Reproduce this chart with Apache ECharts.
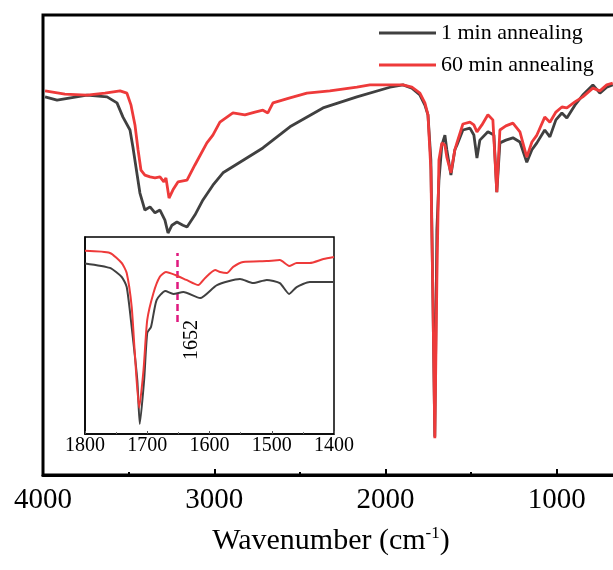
<!DOCTYPE html>
<html>
<head>
<meta charset="utf-8">
<script src="https://cdn.jsdelivr.net/npm/echarts@6/dist/echarts.min.js"></script>
<style>html,body{margin:0;padding:0;background:#fff}#c{width:613px;height:570px}</style>
</head>
<body>
<div id="c"></div>
<script>
// ---------- DATA ----------
const seriesNames = ['1 min annealing', '60 min annealing'];
// main spectrum (wavenumber, transmittance a.u.)
const mainWaveGray = [3988,3918,3743,3626,3568,3533,3492,3475,3434,3405,3375,3346,3317,3288,3270,3247,3218,3183,3159,3113,3066,3008,2949,2850,2716,2558,2365,2167,1974,1898,1846,1799,1770,1752,1735,1723,1712,1700,1688,1671,1653,1642,1618,1595,1583,1548,1507,1484,1466,1449,1402,1367,1350,1332,1297,1256,1215,1175,1145,1116,1070,1040,1005,970,941,894,848,789,748,708,673];
const mainValGray  = [82.2,81.5,82.6,82.2,80.9,77.8,75.0,71.3,61.3,57.6,58.3,57.0,57.6,55.4,52.6,54.3,55.0,54.3,53.9,56.5,59.8,63.0,65.7,68.0,71.1,75.7,79.8,82.2,84.3,84.8,84.1,82.6,80.4,78.3,68.5,38.0,8.3,53.3,64.0,71.7,73.9,70.7,65.2,70.7,71.7,75.0,75.4,73.9,68.9,72.8,74.6,73.9,61.5,72.2,72.8,73.3,72.4,68.0,70.7,72.2,75.0,73.5,77.2,78.7,77.6,80.4,82.6,84.8,83.0,84.3,84.8];
const mainWaveRed  = [3988,3872,3743,3638,3550,3510,3486,3463,3445,3428,3405,3375,3346,3317,3294,3282,3264,3241,3212,3159,3113,3043,3008,2967,2891,2821,2762,2716,2687,2657,2558,2459,2325,2167,2091,1974,1898,1846,1799,1770,1752,1735,1723,1712,1700,1688,1671,1653,1642,1618,1595,1583,1548,1507,1484,1466,1437,1402,1373,1350,1332,1297,1256,1215,1175,1145,1116,1070,1040,1005,970,941,894,848,789,748,708,673];
const mainValRed   = [83.5,82.8,82.6,83.0,83.5,83.0,80.4,76.1,70.7,66.3,65.2,64.8,64.6,64.8,63.7,64.6,60.2,62.0,63.7,64.1,67.4,72.2,73.9,76.7,78.7,78.3,78.9,79.3,78.7,80.9,82.0,83.0,83.5,84.3,84.8,84.8,84.8,84.3,83.0,80.9,78.3,66.3,38.0,8.0,42.4,68.5,72.2,71.7,69.1,65.7,70.7,72.2,76.3,76.7,76.1,74.6,76.1,78.3,77.2,61.5,75.0,75.9,76.5,74.6,69.1,72.4,73.9,77.8,76.7,78.9,80.0,79.8,81.1,82.2,84.1,83.5,84.8,85.2];
// inset (1800-1400 cm-1)
const insetWaveGray = [1800,1760,1741,1733,1725,1716,1712,1705,1700,1694,1685,1671,1658,1642,1615,1588,1551,1530,1508,1487,1472,1460,1439,1400];
const insetValGray  = [86.6,84.3,79.7,74.6,54.3,27.4,5.1,27.4,51.3,54.3,68.0,72.6,71.1,72.1,69.0,75.6,78.7,76.6,78.2,76.6,71.1,74.6,77.2,77.2];
const insetWaveRed  = [1800,1760,1741,1733,1725,1720,1713,1706,1700,1690,1680,1670,1655,1637,1618,1607,1591,1583,1572,1562,1546,1508,1487,1472,1460,1439,1417,1400];
const insetValRed   = [93.0,91.9,86.8,81.7,64.5,41.1,13.2,32.5,57.9,71.6,79.7,82.2,80.7,78.2,75.6,79.2,83.2,82.2,81.7,84.8,87.3,87.8,88.3,85.3,86.8,86.8,88.8,89.8];
const mainTicks = [0, 4000, 1000];   // min, max, interval
const insetTicks = [1400, 1800, 100];
const markWave = 1652;
const markRange = [56.9, 91.9];
const xName = 'Wavenumber (cm';
const xNameSup = '-1';

const pairs = (w, v) => w.map((x, i) => [x, v[i]]);
const FONT = 'Liberation Serif';
const GRAY = '#404040', RED = '#ee3a3a';

const chart = echarts.init(document.getElementById('c'), null, {renderer: 'canvas'});
chart.setOption({
  animation: false,
  backgroundColor: '#fff',
  color: [GRAY, RED],
  legend: {
    orient: 'vertical', left: 374, top: 17,
    itemWidth: 57, itemHeight: 3, itemGap: 10, icon: 'rect',
    textStyle: {fontFamily: FONT, fontSize: 22, color: '#000', lineHeight: 22},
    data: seriesNames
  },
  grid: [
    {left: 43, top: 15, width: 685, height: 460, show: true, borderColor: '#000', borderWidth: 3, backgroundColor: 'transparent',
     containLabel: false, outerBoundsMode: 'none'},
    {left: 85, top: 237, width: 249, height: 197, show: true, borderColor: '#000', borderWidth: 1.5, backgroundColor: '#fff', z: 5,
     containLabel: false, outerBoundsMode: 'none'}
  ],
  xAxis: [
    {gridIndex: 0, type: 'value', inverse: true, min: mainTicks[0], max: mainTicks[1], interval: mainTicks[2],
     axisLine: {show: true, lineStyle: {color: '#000', width: 3}},
     axisTick: {show: true, inside: true, length: 6, lineStyle: {color: '#000', width: 2}},
     minorTick: {show: true, splitNumber: 2, length: 3, lineStyle: {color: '#000', width: 2}},
     splitLine: {show: false},
     axisLabel: {fontFamily: FONT, fontSize: 29, color: '#000', margin: 11,
                 formatter: v => (v === 0 ? '' : String(v))}},
    {gridIndex: 1, type: 'value', inverse: true, min: insetTicks[0], max: insetTicks[1], interval: insetTicks[2],
     axisLine: {show: true, lineStyle: {color: '#000', width: 1.5}},
     axisTick: {show: true, inside: true, length: 3, lineStyle: {color: '#555', width: 1}},
     minorTick: {show: true, splitNumber: 2, length: 2, lineStyle: {color: '#777', width: 1}},
     splitLine: {show: false},
     axisLabel: {fontFamily: FONT, fontSize: 20, color: '#000', margin: 2, showMinLabel: true, showMaxLabel: true,
                 formatter: v => String(v)},
     z: 5}
  ],
  yAxis: [
    {gridIndex: 0, type: 'value', min: 0, max: 100, axisLine: {show: true, lineStyle: {color: '#000', width: 3}},
     axisTick: {show: false}, axisLabel: {show: false}, splitLine: {show: false}},
    {gridIndex: 1, type: 'value', min: 0, max: 100, axisLine: {show: true, lineStyle: {color: '#000', width: 1.5}},
     axisTick: {show: false}, axisLabel: {show: false}, splitLine: {show: false}, z: 5}
  ],
  series: [
    {name: seriesNames[0], type: 'line', xAxisIndex: 0, yAxisIndex: 0, showSymbol: false, symbol: 'none',
     lineStyle: {color: GRAY, width: 2.8}, itemStyle: {color: GRAY}, data: pairs(mainWaveGray, mainValGray), z: 2},
    {name: seriesNames[1], type: 'line', xAxisIndex: 0, yAxisIndex: 0, showSymbol: false, symbol: 'none',
     lineStyle: {color: RED, width: 2.8}, itemStyle: {color: RED}, data: pairs(mainWaveRed, mainValRed), z: 3},
    {name: seriesNames[0], type: 'line', xAxisIndex: 1, yAxisIndex: 1, showSymbol: false, symbol: 'none', smooth: 0.2,
     lineStyle: {color: GRAY, width: 2}, itemStyle: {color: GRAY}, data: pairs(insetWaveGray, insetValGray), z: 6},
    {name: seriesNames[1], type: 'line', xAxisIndex: 1, yAxisIndex: 1, showSymbol: false, symbol: 'none', smooth: 0.2,
     lineStyle: {color: RED, width: 2}, itemStyle: {color: RED}, data: pairs(insetWaveRed, insetValRed), z: 7,
     markLine: {silent: true, symbol: 'none', label: {show: false},
       lineStyle: {color: '#e0197f', width: 2.5, type: [7, 4]},
       data: [[{coord: [markWave, markRange[0]]}, {coord: [markWave, markRange[1]]}]]}}
  ],
  graphic: [
    {type: 'text', x: 331, y: 556, z: 10,
     style: {text: '{a|' + xName + '}{s|' + xNameSup + '}{a|)}', align: 'center', verticalAlign: 'bottom',
       rich: {a: {fontFamily: FONT, fontSize: 30, color: '#000', lineHeight: 30},
              s: {fontFamily: FONT, fontSize: 17, color: '#000', lineHeight: 30, padding: [0, 0, 14, 0]}}}},
    {type: 'text', x: 192, y: 340, rotation: Math.PI / 2, z: 10,
     style: {text: String(markWave), align: 'center', verticalAlign: 'middle', fontFamily: FONT, fontSize: 20, fill: '#000'}}
  ]
});
</script>
</body>
</html>
